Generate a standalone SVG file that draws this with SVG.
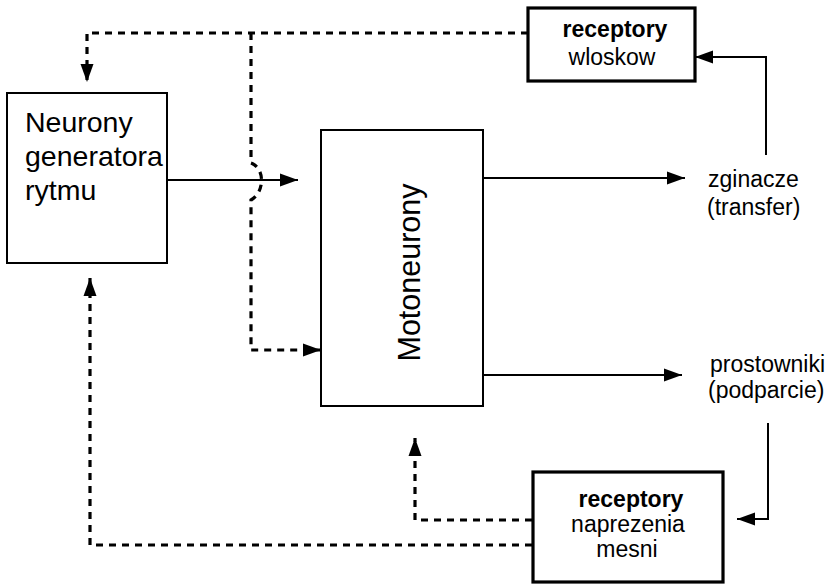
<svg xmlns="http://www.w3.org/2000/svg" width="827" height="585" viewBox="0 0 827 585">
<style>
text{font-family:"Liberation Sans",Arial,sans-serif;fill:#000}
.big{font-size:28.5px}
.sm{font-size:23px}
.b{font-weight:bold}
.box{fill:#fff;stroke:#000;stroke-width:2}
.tbox{fill:#fff;stroke:#000;stroke-width:3.2}
.sol{fill:none;stroke:#000;stroke-width:2}
.dash{fill:none;stroke:#000;stroke-width:3.2;stroke-dasharray:7 6}
</style>
<defs>
<marker id="ah" markerUnits="userSpaceOnUse" markerWidth="20" markerHeight="14" refX="18" refY="7" orient="auto">
<path d="M0,0.5 L18,7 L0,13.5 Z" fill="#000" stroke="none"/>
</marker>
</defs>
<rect width="827" height="585" fill="#fff"/>
<g id="connectors">
<path class="dash" d="M528,33 H87 V82" marker-end="url(#ah)"/>
<path class="dash" d="M251,33 V163 C265,168 265,192 251,200 V350 H321" marker-end="url(#ah)"/>
<path class="sol" d="M157,180 H298" marker-end="url(#ah)"/>
<path class="sol" d="M483,178 H685" marker-end="url(#ah)"/>
<path class="sol" d="M483,375 H682" marker-end="url(#ah)"/>
<path class="sol" d="M766,155 V57 H695" marker-end="url(#ah)"/>
<path class="sol" d="M768,423 V519 H737" marker-end="url(#ah)"/>
<path class="dash" d="M532,520 H415 V438" marker-end="url(#ah)"/>
<path class="dash" d="M532,545 H90 V278" marker-end="url(#ah)"/>
</g>
<g id="neurony">
<rect class="box" x="7" y="93" width="160" height="170"/>
<text class="big" x="25" y="132">Neurony</text>
<text class="big" x="25" y="166">generatora</text>
<text class="big" x="25" y="200">rytmu</text>
</g>
<g id="motoneurony">
<rect class="box" x="321" y="130" width="162" height="276"/>
<text text-anchor="middle" style="font-size:30.5px" transform="translate(420,272.5) rotate(-90)">Motoneurony</text>
</g>
<g id="receptory-wloskow">
<rect class="tbox" x="528" y="8" width="167" height="73"/>
<text class="sm b" x="615" y="37" text-anchor="middle">receptory</text>
<text class="sm" x="612" y="65" text-anchor="middle">wloskow</text>
</g>
<g id="zginacze">
<text class="sm" x="708" y="187">zginacze</text>
<text class="sm" x="707" y="215">(transfer)</text>
</g>
<g id="prostowniki">
<text class="sm" x="710" y="372">prostowniki</text>
<text class="sm" x="708" y="398">(podparcie)</text>
</g>
<g id="receptory-naprezenia">
<rect class="tbox" x="533" y="472" width="190" height="110"/>
<text class="sm b" x="631" y="507" text-anchor="middle">receptory</text>
<text class="sm" x="628" y="532" text-anchor="middle">naprezenia</text>
<text class="sm" x="627" y="557" text-anchor="middle">mesni</text>
</g>
</svg>
